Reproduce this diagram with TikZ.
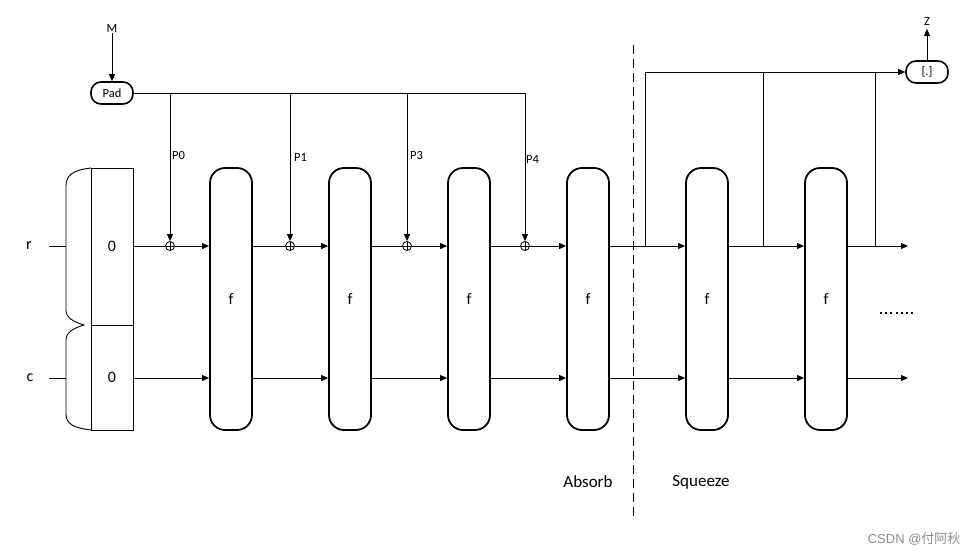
\documentclass[tikz,border=0pt]{standalone}
\usepackage{fontspec}
\setmainfont{Carlito}
\newfontfamily\wmfont{Liberation Sans}
\newfontfamily\cjkfont{Noto Sans CJK SC}
\usetikzlibrary{arrows.meta}
\begin{document}
\begin{tikzpicture}[x=1pt,y=-1pt,
  ln/.style={line width=0.9pt},
  arr/.style={ln,-{Triangle[length=7pt,width=6pt]}},
  fbox/.style={draw,line width=1.8pt,rounded corners=15pt,minimum width=42pt,minimum height=262pt,inner sep=0pt,font=\fontsize{16}{16}\selectfont},
  pill/.style={draw,line width=1.6pt,rounded corners=10pt,minimum width=42pt,minimum height=22pt,inner sep=0pt,font=\fontsize{12.5}{12.5}\selectfont},
  small/.style={font=\fontsize{12.5}{13}\selectfont,inner sep=1pt},
  big/.style={font=\fontsize{17}{17}\selectfont,inner sep=1pt},
  mid/.style={font=\fontsize{16}{16}\selectfont,inner sep=1pt},
  xo/.style={circle,draw,line width=0.8pt,minimum size=9pt,inner sep=0pt,path picture={\draw[line width=0.8pt] (path picture bounding box.north) -- (path picture bounding box.south) (path picture bounding box.west) -- (path picture bounding box.east);}},
  cellbox/.style={draw,line width=0.9pt,minimum width=42pt,inner sep=0pt,font=\fontsize{16}{16}\selectfont}
]
\useasboundingbox (0,0) rectangle (979,555);

% input M and Pad
\node[small] (M) at (112,28) {M};
\node[pill] (pad) at (112,93) {Pad};
\draw[arr] (M) -- (pad);

% left state boxes
\node[cellbox,minimum height=157pt] (b0) at (112,246.5) {0};
\node[cellbox,minimum height=105pt] (b1) at (112,377.5) {0};

% braces
\draw[ln] (91,168) .. controls (72,170) and (66,176) .. (66,186) -- (66,310)
  .. controls (66,318) and (74,322) .. (84,325)
  .. controls (74,328) and (66,332) .. (66,340) -- (66,414)
  .. controls (66,424) and (74,428) .. (91,430);
\node[mid] (r) at (29,246) {r};
\node[mid] (c) at (30,378) {c};
\coordinate (rb) at (66,246);
\coordinate (cb) at (66,378);
\coordinate (ra) at (49,246);
\coordinate (ca) at (49,378);
\draw[ln] (ra) -- (rb);
\draw[ln] (ca) -- (cb);

% f boxes
\foreach \i/\x in {1/231,2/350,3/469,4/588,5/707,6/826}{
  \node[fbox] (f\i) at (\x,299) {f};
}

% xor nodes
\node[xo] (x1) at (170,246) {};
\node[xo] (x2) at (290,246) {};
\node[xo] (x3) at (407,246) {};
\node[xo] (x4) at (525,246) {};

% top bus from Pad
\coordinate (t1) at (170,93);
\coordinate (t2) at (290,93);
\coordinate (t3) at (407,93);
\coordinate (t4) at (525,93);
\draw[ln] (pad.east) -- (t4);
\draw[arr] (t1) -- (x1.north);
\draw[arr] (t2) -- (x2.north);
\draw[arr] (t3) -- (x3.north);
\draw[arr] (t4) -- (x4.north);
\node[small,anchor=west] (p0) at (171,155) {P0};
\node[small,anchor=west] (p1) at (293,157) {P1};
\node[small,anchor=west] (p3) at (409,155) {P3};
\node[small,anchor=west] (p4) at (525,159) {P4};

% r row
\draw[ln] (b0.east |- x1) -- (x1.west);
\draw[arr] (x1.east) -- (f1.west |- x1);
\draw[ln] (f1.east |- x2) -- (x2.west);
\draw[arr] (x2.east) -- (f2.west |- x2);
\draw[ln] (f2.east |- x3) -- (x3.west);
\draw[arr] (x3.east) -- (f3.west |- x3);
\draw[ln] (f3.east |- x4) -- (x4.west);
\draw[arr] (x4.east) -- (f4.west |- x4);
\draw[arr] (f4.east |- x4) -- (f5.west |- x4);
\draw[arr] (f5.east |- x4) -- (f6.west |- x4);
\coordinate (rend) at (908,246);
\draw[arr] (f6.east |- rend) -- (rend);

% c row
\coordinate (cy) at (0,378);
\draw[arr] (b1.east |- cy) -- (f1.west |- cy);
\draw[arr] (f1.east |- cy) -- (f2.west |- cy);
\draw[arr] (f2.east |- cy) -- (f3.west |- cy);
\draw[arr] (f3.east |- cy) -- (f4.west |- cy);
\draw[arr] (f4.east |- cy) -- (f5.west |- cy);
\draw[arr] (f5.east |- cy) -- (f6.west |- cy);
\coordinate (cend) at (908,378);
\draw[arr] (f6.east |- cend) -- (cend);

% squeeze outputs
\node[pill] (out) at (927,72) {[.]};
\node[small] (Z) at (927,21) {Z};
\coordinate (s1) at (645,246);
\coordinate (s2) at (763,246);
\coordinate (s3) at (875,246);
\draw[arr] (s1) -- (645,72) -- (out.west);
\draw[ln] (s2) -- (s2 |- out);
\draw[ln] (s3) -- (s3 |- out);
\draw[arr] (out.north) -- (927,29);

% separator
\coordinate (d1) at (633,45);
\coordinate (d2) at (633,516);
\draw[ln,dash pattern=on 9pt off 5pt] (d1) -- (d2);
\node[big] (abs) at (588,482) {Absorb};
\node[big] (sq) at (701,482) {Squeeze};

% ellipsis
\coordinate (e1) at (880,313);
\coordinate (e2) at (913,313);
\draw[line width=1.6pt,dash pattern=on 2pt off 3.2pt] (e1) -- (e2);

% watermark
\node[text=black!45,font=\fontsize{13}{13}\selectfont,anchor=east] (wm) at (964,539) {\wmfont CSDN @\cjkfont 付阿秋};
\end{tikzpicture}
\end{document}
